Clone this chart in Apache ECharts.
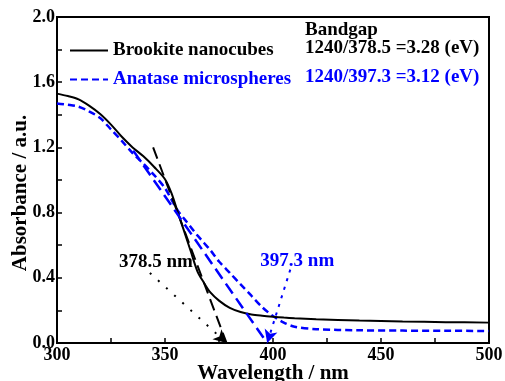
<!DOCTYPE html>
<html>
<head>
<meta charset="utf-8">
<script src="https://cdn.jsdelivr.net/npm/echarts@6/dist/echarts.min.js"></script>
<style>
  html, body { margin: 0; padding: 0; background: #fff; }
  #chart { width: 505px; height: 381px; }
</style>
</head>
<body>
<div id="chart"></div>
<script>
// UV-Vis absorbance spectra of the two TiO2 samples
var wavelength = [300, 305, 310, 315, 320, 325, 330, 335, 340, 345, 350, 353, 356, 359, 362, 365, 368, 371, 375, 380, 385, 390, 395, 400, 405, 410, 420, 440, 460, 480, 500];
var brookite   = [1.53, 1.515, 1.495, 1.455, 1.405, 1.34, 1.265, 1.20, 1.145, 1.08, 1.005, 0.92, 0.80, 0.68, 0.56, 0.44, 0.37, 0.31, 0.26, 0.215, 0.19, 0.175, 0.167, 0.161, 0.156, 0.152, 0.146, 0.138, 0.132, 0.128, 0.125];
var anatase    = [1.47, 1.462, 1.45, 1.42, 1.38, 1.31, 1.24, 1.165, 1.10, 1.03, 0.95, 0.88, 0.81, 0.76, 0.71, 0.66, 0.615, 0.57, 0.50, 0.43, 0.36, 0.29, 0.22, 0.165, 0.125, 0.10, 0.085, 0.078, 0.076, 0.075, 0.074];

// Absorption-edge tangents: [wavelength, absorbance] end points
var brookiteEdge = 378.5;
var anataseEdge  = 397.3;
var brookiteTangent = [[344.5, 1.20], [brookiteEdge, 0]];
var anataseTangent  = [[335.3, 1.18], [anataseEdge, 0]];

// Dotted pointers from the edge labels to the intercepts
var brookitePointer = [[343, 0.43], [brookiteEdge, 0]];
var anatasePointer  = [[408, 0.45], [anataseEdge, 0]];

var seriesNames = ['Brookite nanocubes', 'Anatase microspheres'];
var bandgapText = ['1240/378.5 =3.28 (eV)', '1240/397.3 =3.12 (eV)'];
var edgeLabels = ['378.5 nm', '397.3 nm'];

var xTicks = { min: 300, max: 500, interval: 50 };
var yTicks = { min: 0, max: 2.0, interval: 0.4 };

var BLUE = '#0000ff';
var FONT = '"Liberation Serif", "Times New Roman", serif';

function pairs(xs, ys) {
  return xs.map(function (x, i) { return [x, ys[i]]; });
}

var chart = echarts.init(document.getElementById('chart'), null, { renderer: 'canvas' });

var option = {
  backgroundColor: '#fff',
  animation: false,
  textStyle: { fontFamily: FONT, fontWeight: 'bold', color: '#000' },
  grid: {
    left: 57, right: 16, top: 17, bottom: 38,
    containLabel: false, outerBoundsMode: 'none',
    show: true, borderColor: '#000', borderWidth: 2, backgroundColor: 'transparent'
  },
  legend: {
    data: [
      { name: seriesNames[0], textStyle: { color: '#000' } },
      { name: seriesNames[1], textStyle: { color: BLUE } }
    ],
    orient: 'vertical',
    left: 64, top: 36,
    itemWidth: 38, itemHeight: 14, itemGap: 10,
    itemStyle: { opacity: 0 },
    textStyle: { fontFamily: FONT, fontWeight: 'bold', fontSize: 19 },
    selectedMode: false
  },
  xAxis: {
    type: 'value',
    min: xTicks.min, max: xTicks.max, interval: xTicks.interval,
    name: 'Wavelength / nm',
    nameLocation: 'middle', nameGap: 20,
    nameMoveOverlap: false,
    nameTextStyle: { fontFamily: FONT, fontWeight: 'bold', fontSize: 21, color: '#000' },
    axisLine: { lineStyle: { color: '#000', width: 2 } },
    axisTick: { inside: true, length: 5, lineStyle: { color: '#000', width: 1.5 } },
    minorTick: { show: true, splitNumber: 2, length: 5, lineStyle: { color: '#000', width: 1.5 } },
    splitLine: { show: false },
    axisLabel: { fontFamily: FONT, fontWeight: 'bold', fontSize: 18, color: '#000', margin: 3 }
  },
  yAxis: {
    type: 'value',
    min: yTicks.min, max: yTicks.max, interval: yTicks.interval,
    axisLine: { lineStyle: { color: '#000', width: 2 } },
    axisTick: { inside: true, length: 5, lineStyle: { color: '#000', width: 1.5 } },
    minorTick: { show: true, splitNumber: 2, length: 5, lineStyle: { color: '#000', width: 1.5 } },
    splitLine: { show: false },
    axisLabel: {
      fontFamily: FONT, fontWeight: 'bold', fontSize: 18, color: '#000', margin: 2,
      formatter: function (v) { return v.toFixed(1); }
    }
  },
  series: [
    {
      name: seriesNames[0], type: 'line', data: pairs(wavelength, brookite),
      smooth: 0.3, symbol: 'none',
      lineStyle: { color: '#000', width: 2 }, itemStyle: { color: '#000' },
      z: 4
    },
    {
      name: seriesNames[1], type: 'line', data: pairs(wavelength, anatase),
      smooth: 0.3, symbol: 'none',
      lineStyle: { color: BLUE, width: 2.5, type: [7, 4] }, itemStyle: { color: BLUE },
      z: 3
    },
    {
      name: 'brookite tangent', type: 'line', data: brookiteTangent,
      symbol: 'none', lineStyle: { color: '#000', width: 2, type: [12, 6] },
      markLine: {
        silent: true, symbol: ['none', 'arrow'], symbolSize: [10, 13],
        label: { show: false },
        lineStyle: { color: '#000', width: 2, type: [2, 9] },
        data: [[{ coord: brookitePointer[0] }, { coord: brookitePointer[1] }]]
      },
      z: 5
    },
    {
      name: 'anatase tangent', type: 'line', data: anataseTangent,
      symbol: 'none', lineStyle: { color: BLUE, width: 2.5, type: [12, 6] },
      markLine: {
        silent: true, symbol: ['none', 'arrow'], symbolSize: [10, 13],
        label: { show: false },
        lineStyle: { color: BLUE, width: 2, type: [3, 6] },
        data: [[{ coord: anatasePointer[0] }, { coord: anatasePointer[1] }]]
      },
      z: 5
    }
  ]
};

chart.setOption(option);

// Edge labels sit just above the start of each pointer
var p1 = chart.convertToPixel({ gridIndex: 0 }, brookitePointer[0]);
var p2 = chart.convertToPixel({ gridIndex: 0 }, anatasePointer[0]);

function boldText(text, x, y, size, color, align) {
  return {
    type: 'text', x: x, y: y,
    style: {
      text: text, fontFamily: FONT, fontWeight: 'bold', fontSize: size,
      fill: color, align: align || 'left', verticalAlign: 'middle'
    }
  };
}

var yTitle = boldText('Absorbance / a.u.', 21, 193, 21, '#000', 'center');
yTitle.rotation = Math.PI / 2;

chart.setOption({
  graphic: [
    yTitle,
    boldText(edgeLabels[0], p1[0] + 6, p1[1] - 11, 19, '#000', 'center'),
    boldText(edgeLabels[1], p2[0] + 7, p2[1] - 9, 19, BLUE, 'center'),
    boldText('Bandgap', 305, 30, 19, '#000'),
    boldText(bandgapText[0], 305, 48, 19, '#000'),
    boldText(bandgapText[1], 305, 77, 19, BLUE)
  ]
});
</script>
</body>
</html>
